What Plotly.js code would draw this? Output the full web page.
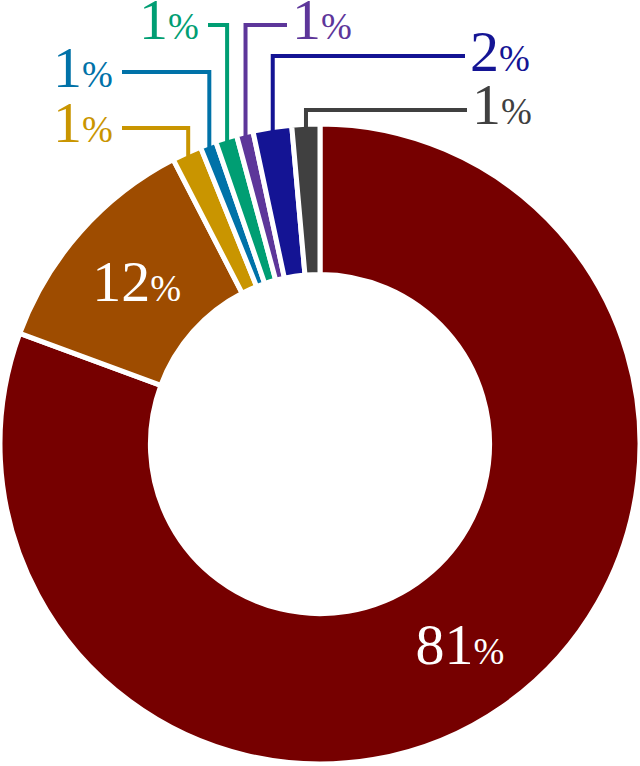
<!DOCTYPE html>
<html><head><meta charset="utf-8">
<script src="https://cdn.plot.ly/plotly-3.0.1.min.js"></script>
<style>html,body{margin:0;padding:0;background:#fff;overflow:hidden}#chart{width:640px;height:766px}</style>
</head><body><div id="chart"></div>
<script>
// ---- data ----
const categories = ['Slice 1','Slice 2','Slice 3','Slice 4','Slice 5','Slice 6','Slice 7','Slice 8'];
const values = [80.6, 11.8, 1.49, 0.81, 1.08, 0.84, 1.95, 1.41];
const colors = ['#760000','#9E4C00','#C99500','#0072A8','#009E73','#5D369A','#141494','#404040'];
// leader layout for the outside labels (pixel units): elbow height, line end x, side
const leaderY   = [null, null, 128, 72, 25, 25, 56, 110];
const leaderEnd = [null, null, 122, 122, 208, 287, 465, 467];
const leaderSide= [null, null, 'left','left','left','right','right','right'];

// ---- geometry ----
const W = 640, H = 766;
const cx = 320, cy = 444, R = 320, HOLE = 0.53, STROKE = 5;
const FONT = 'Liberation Serif';
const total = values.reduce((a,b)=>a+b,0);
const pct = values.map(v => Math.round(v/total*100));
const BIG = 58, SMALL = 37;
const lab = p => p + "<span style='font-size:" + SMALL + "px'>%</span>";

const yc = 1 - cy / H, half = R / H;

const shapes = [], annotations = [];
let cum = 0;
values.forEach((v, i) => {
  const a0 = cum / total * 360; cum += v;
  const a1 = cum / total * 360;
  if (leaderY[i] === null) return;
  const mid = (a0 + a1) / 2 * Math.PI / 180;
  const rr = R - STROKE/2 - 1;
  const sx = cx + rr * Math.sin(mid), sy = cy - rr * Math.cos(mid);
  const px = x => x / W, py = y => 1 - y / H;
  shapes.push({type:'path', xref:'paper', yref:'paper',
    path: 'M' + px(sx) + ',' + py(sy) + ' L' + px(sx) + ',' + py(leaderY[i]) + ' L' + px(leaderEnd[i]) + ',' + py(leaderY[i]),
    line:{color: colors[i], width:4}});
  const left = leaderSide[i] === 'left';
  annotations.push({xref:'paper', yref:'paper', x: px(leaderEnd[i]), y: py(leaderY[i]),
    xanchor: left ? 'right' : 'left', yanchor:'middle', xshift: left ? -8 : 4, yshift: 5,
    borderpad: 0, showarrow:false, text: lab(pct[i]),
    font:{family: FONT, size:BIG, color: colors[i]}});
});

const trace = {
  type:'pie', labels: categories, values: values, sort:false, direction:'clockwise', rotation:0,
  hole: HOLE,
  marker:{colors: colors, line:{color:'#ffffff', width:STROKE}},
  customdata: pct,
  texttemplate: values.map((v,i)=> i < 2 ? lab(pct[i]) : ''),
  textposition: values.map((v,i)=> i < 2 ? 'inside' : 'none'),
  insidetextorientation:'horizontal',
  textfont:{family: FONT, size:BIG, color:'#ffffff'},
  domain:{x:[0,1], y:[yc - half, yc + half]},
  showlegend:false, hoverinfo:'none'
};

Plotly.newPlot('chart', [trace], {
  width: W, height: H, margin:{l:0,r:0,t:0,b:0},
  font:{family: FONT},
  paper_bgcolor:'#ffffff', plot_bgcolor:'#ffffff',
  showlegend:false, shapes: shapes, annotations: annotations
}, {displayModeBar:false, staticPlot:true});
</script></body></html>
